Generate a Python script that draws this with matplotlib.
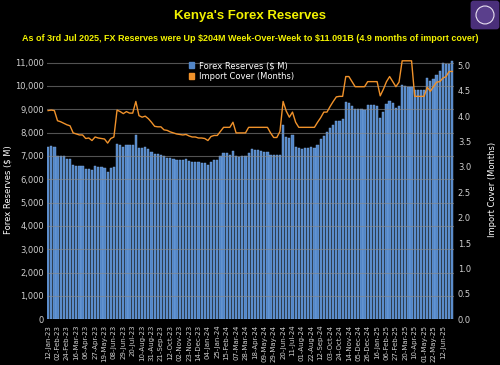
import matplotlib
matplotlib.use("Agg")
import matplotlib.pyplot as plt
from matplotlib.patches import FancyBboxPatch, Circle, Patch

# weekly data, 12-Jan-23 .. 03-Jul-25
reserves = [7380, 7420, 7370, 7000, 7000, 6990, 6870, 6870, 6600, 6580,
            6580, 6570, 6440, 6450, 6380, 6550, 6520, 6510, 6480, 6310,
            6490, 6520, 7530, 7460, 7380, 7480, 7480, 7490, 7910, 7350,
            7350, 7380, 7300, 7150, 7070, 7070, 7060, 7010, 6930, 6900,
            6890, 6830, 6830, 6830, 6850, 6780, 6720, 6730, 6730, 6700,
            6700, 6600, 6750, 6820, 6820, 7000, 7130, 7130, 7040, 7220,
            7000, 6950, 7000, 7010, 7140, 7300, 7240, 7240, 7200, 7190,
            7190, 7020, 7020, 7020, 7020, 8330, 7800, 7790, 7900, 7400,
            7320, 7300, 7350, 7340, 7400, 7350, 7490, 7740, 7850, 8020,
            8190, 8320, 8500, 8500, 8600, 9330, 9290, 9150, 9000, 9000,
            9000, 8990, 9200, 9190, 9180, 9150, 8640, 8880, 9220, 9360,
            9250, 9060, 9130, 10050, 10000, 9970, 9960, 9820, 9820, 9820,
            9840, 10320, 10200, 10300, 10480, 10630, 10980, 10950, 10940, 11091]

cover = [4.11, 4.12, 4.11, 3.91, 3.89, 3.86, 3.83, 3.81, 3.67, 3.65,
         3.63, 3.63, 3.56, 3.57, 3.52, 3.59, 3.57, 3.56, 3.55, 3.47,
         3.56, 3.59, 4.12, 4.09, 4.05, 4.09, 4.06, 4.06, 4.29, 4.01,
         3.98, 4.00, 3.95, 3.88, 3.80, 3.79, 3.79, 3.73, 3.72, 3.69,
         3.67, 3.65, 3.64, 3.63, 3.64, 3.61, 3.59, 3.59, 3.57, 3.57,
         3.56, 3.52, 3.60, 3.62, 3.62, 3.70, 3.78, 3.78, 3.78, 3.88,
         3.67, 3.67, 3.67, 3.67, 3.78, 3.78, 3.78, 3.78, 3.78, 3.78,
         3.78, 3.67, 3.58, 3.58, 3.70, 4.29, 4.10, 3.98, 4.08, 3.88,
         3.78, 3.78, 3.78, 3.78, 3.78, 3.78, 3.88, 3.97, 4.08, 4.08,
         4.19, 4.29, 4.38, 4.39, 4.39, 4.78, 4.78, 4.68, 4.58, 4.58,
         4.58, 4.58, 4.68, 4.68, 4.68, 4.68, 4.40, 4.53, 4.68, 4.78,
         4.68, 4.58, 4.67, 5.09, 5.09, 5.09, 5.09, 4.39, 4.39, 4.39,
         4.39, 4.57, 4.49, 4.58, 4.67, 4.68, 4.75, 4.78, 4.88, 4.88]

tick_labels = ['12-Jan-23', '02-Feb-23', '24-Feb-23', '16-Mar-23', '06-Apr-23',
               '27-Apr-23', '19-May-23', '08-Jun-23', '29-Jun-23', '20-Jul-23',
               '10-Aug-23', '31-Aug-23', '21-Sep-23', '12-Oct-23', '02-Nov-23',
               '23-Nov-23', '14-Dec-23', '04-Jan-24', '25-Jan-24', '15-Feb-24',
               '07-Mar-24', '28-Mar-24', '18-Apr-24', '09-May-24', '29-May-24',
               '20-Jun-24', '11-Jul-24', '01-Aug-24', '22-Aug-24', '12-Sep-24',
               '03-Oct-24', '24-Oct-24', '14-Nov-24', '05-Dec-24', '26-Dec-24',
               '16-Jan-25', '06-Feb-25', '27-Feb-25', '20-Mar-25', '10-Apr-25',
               '01-May-25', '22-May-25', '12-Jun-25']

x = list(range(len(reserves)))
tick_pos = x[::3][:len(tick_labels)]

yellow = '#f2f200'
txt = '#d0d0d0'
blue = '#5286c8'
orange = '#f0922b'

fig = plt.figure(figsize=(5, 3.65), dpi=100, facecolor='black')
ax = fig.add_axes([0.0934, 0.1252, 0.814, 0.7096], facecolor='black')
ax2 = ax.twinx()

ax.bar(x, reserves, width=0.72, color=blue, edgecolor='#7eaae0',
       linewidth=0.3, zorder=2)
ax2.plot(x, cover, color=orange, linewidth=1.0, zorder=3)

ax.set_xlim(-0.45, len(x) - 0.55)
ax.set_ylim(0, 11100)
ax2.set_ylim(0, 5.1)
ax.set_yticks(range(0, 11001, 1000))
ax.set_yticklabels([f'{v:,}' for v in range(0, 11001, 1000)])
ax2.set_yticks([i * 0.5 for i in range(11)])
ax2.set_yticklabels([f'{i * 0.5:.1f}' for i in range(11)])
ax.set_xticks(tick_pos)
ax.set_xticklabels(tick_labels, rotation=90)

ax.yaxis.grid(True, color='#8a8a8a', linewidth=0.8, alpha=0.6, zorder=4)
ax.set_axisbelow(False)

for a in (ax, ax2):
    for s in a.spines.values():
        s.set_visible(False)
    a.tick_params(colors=txt, length=0, labelsize=6)
ax.tick_params(axis='x', labelsize=5, pad=4)
ax.tick_params(axis='y', pad=2)
ax2.tick_params(axis='y', pad=3)

ax.set_ylabel(r'Forex Reserves (\$ M)', color='white', fontsize=6)
ax.yaxis.set_label_coords(-0.085, 0.5)
ax2.set_ylabel('Import Cover (Months)', color='white', fontsize=6)
ax2.yaxis.set_label_coords(1.085, 0.5)

handles = [Patch(color=blue), Patch(color=orange)]
ax2.legend(handles, [r'Forex Reserves (\$ M)', 'Import Cover (Months)'],
           loc='upper left', bbox_to_anchor=(0.33, 1.025), frameon=False,
           fontsize=6, handlelength=0.7, handleheight=0.7,
           handletextpad=0.5, labelspacing=0.15, labelcolor='white')

fig.text(0.5, 0.955, "Kenya's Forex Reserves", color=yellow, fontsize=9.5,
         ha='center', va='center', fontweight='bold', family='Liberation Sans')
fig.text(0.5, 0.895,
         r'As of 3rd Jul 2025, FX Reserves were Up \$204M Week-Over-Week to \$11.091B (4.9 months of import cover)',
         color=yellow, fontsize=6.5, ha='center', va='center', fontweight='bold',
         family='Liberation Sans')

# logo
lax = fig.add_axes([0.94, 0.918, 0.06, 0.082])
lax.set_xlim(0, 1)
lax.set_ylim(0, 1)
lax.axis('off')
lax.add_patch(FancyBboxPatch((0.02, 0.02), 0.96, 0.96, boxstyle='round,pad=0,rounding_size=0.1',
                             facecolor='#4a2f7a', edgecolor='none'))
lax.add_patch(Circle((0.5, 0.5), 0.3, facecolor='#5a3f8c', edgecolor='#e8e0f0', linewidth=0.8))

fig.savefig('out.png', dpi=100, facecolor='black')
